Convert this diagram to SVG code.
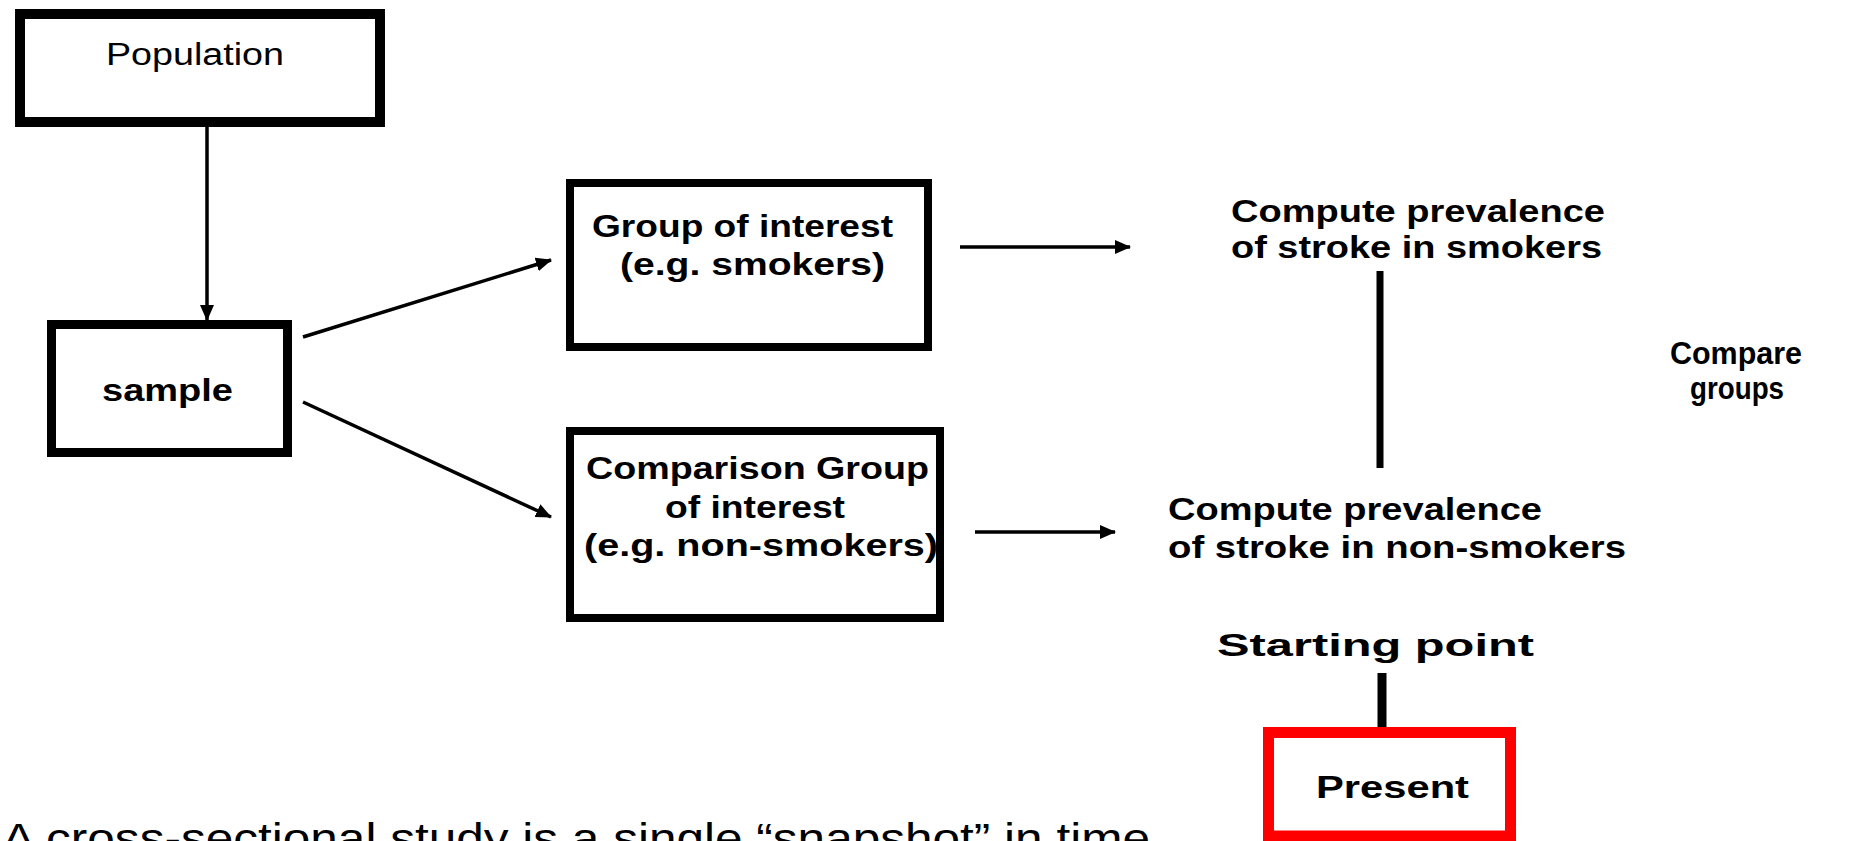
<svg xmlns="http://www.w3.org/2000/svg" width="1850" height="841" viewBox="0 0 1850 841">
  <style>
    .box { fill: #ffffff; stroke: #000000; }
    .present { fill: #ffffff; stroke: #ff0000; stroke-width: 11; }
    .lbl { font-family: "Liberation Sans", Arial, sans-serif; font-weight: bold; font-size: 32px; fill: #000000; }
    .reg { font-family: "Liberation Sans", Arial, sans-serif; font-weight: normal; fill: #000000; }
    .arrow { stroke: #000000; stroke-width: 3.5; fill: none; marker-end: url(#head); }
    .bar { stroke: #000000; fill: none; }
  </style>
  <defs>
    <marker id="head" markerUnits="userSpaceOnUse" markerWidth="16" markerHeight="14" refX="15" refY="7" orient="auto">
      <path d="M0,0 L16,7 L0,14 Z" fill="#000000"/>
    </marker>
  </defs>
  <rect width="1850" height="841" fill="#ffffff"/>

  <g id="connectors">
    <line class="arrow" x1="207" y1="127" x2="207" y2="320"/>
    <line class="arrow" x1="303" y1="337" x2="551" y2="260"/>
    <line class="arrow" x1="303" y1="402" x2="551" y2="517"/>
    <line class="arrow" x1="960" y1="247" x2="1130" y2="247"/>
    <line class="arrow" x1="975" y1="532" x2="1115" y2="532"/>
    <line class="bar" x1="1380" y1="271" x2="1380" y2="468" stroke-width="7"/>
    <line class="bar" x1="1382" y1="673" x2="1382" y2="727" stroke-width="9"/>
  </g>

  <g id="population">
    <rect class="box" x="20" y="14" width="360" height="108" stroke-width="10"/>
    <text class="reg" x="106" y="65" font-size="31" textLength="178" lengthAdjust="spacingAndGlyphs">Population</text>
  </g>

  <g id="sample">
    <rect class="box" x="51.5" y="324.5" width="236" height="128" stroke-width="9"/>
    <text class="lbl" x="102" y="401" textLength="131" lengthAdjust="spacingAndGlyphs">sample</text>
  </g>

  <g id="group-interest">
    <rect class="box" x="570" y="183" width="358" height="164" stroke-width="8"/>
    <text class="lbl" x="592" y="237" textLength="301" lengthAdjust="spacingAndGlyphs">Group of interest</text>
    <text class="lbl" x="620" y="275" textLength="265" lengthAdjust="spacingAndGlyphs">(e.g. smokers)</text>
  </g>

  <g id="group-comparison">
    <rect class="box" x="570" y="431" width="370" height="187" stroke-width="8"/>
    <text class="lbl" x="586" y="479" textLength="343" lengthAdjust="spacingAndGlyphs">Comparison Group</text>
    <text class="lbl" x="665" y="518" textLength="180" lengthAdjust="spacingAndGlyphs">of interest</text>
    <text class="lbl" x="584" y="556" textLength="354" lengthAdjust="spacingAndGlyphs">(e.g. non-smokers)</text>
  </g>

  <g id="prevalence-smokers">
    <text class="lbl" x="1231" y="222" textLength="374" lengthAdjust="spacingAndGlyphs">Compute prevalence</text>
    <text class="lbl" x="1231" y="258" textLength="371" lengthAdjust="spacingAndGlyphs">of stroke in smokers</text>
  </g>

  <g id="prevalence-nonsmokers">
    <text class="lbl" x="1168" y="520" textLength="374" lengthAdjust="spacingAndGlyphs">Compute prevalence</text>
    <text class="lbl" x="1168" y="558" textLength="458" lengthAdjust="spacingAndGlyphs">of stroke in non-smokers</text>
  </g>

  <g id="compare-groups">
    <text class="lbl" x="1670" y="364" textLength="132" lengthAdjust="spacingAndGlyphs">Compare</text>
    <text class="lbl" x="1690" y="399" textLength="94" lengthAdjust="spacingAndGlyphs">groups</text>
  </g>

  <g id="starting-point">
    <text class="lbl" x="1217" y="656" font-size="36" textLength="317" lengthAdjust="spacingAndGlyphs">Starting point</text>
  </g>

  <g id="present">
    <rect class="present" x="1268.5" y="732.5" width="242" height="103.5"/>
    <text class="lbl" x="1316" y="798" font-size="38" textLength="153" lengthAdjust="spacingAndGlyphs">Present</text>
  </g>

  <g id="caption">
    <text class="reg" x="2" y="853" font-size="42" textLength="1148" lengthAdjust="spacingAndGlyphs">A cross-sectional study is a single “snapshot” in time</text>
  </g>
</svg>
